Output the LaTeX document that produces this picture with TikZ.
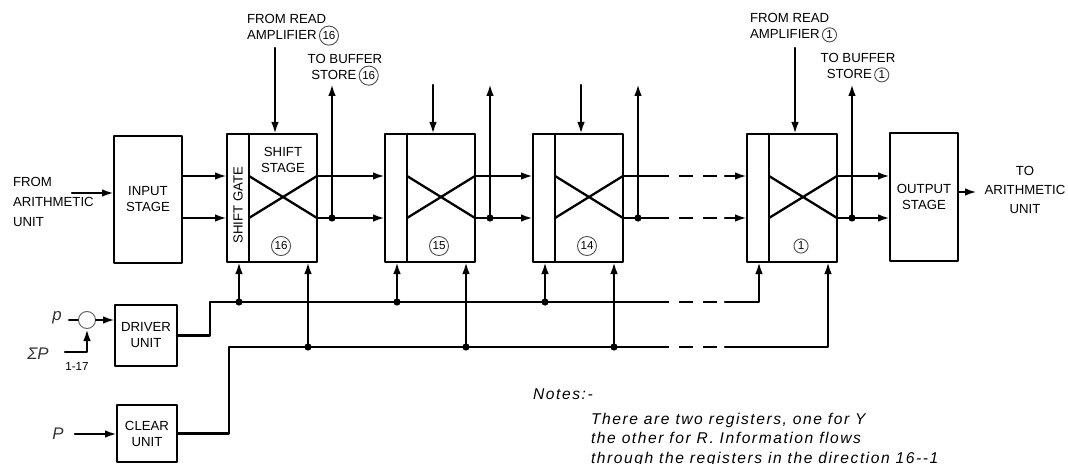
\documentclass[tikz,border=0pt]{standalone}
\usepackage{fontspec}
\setmainfont{Liberation Sans}
\newfontfamily\notefont[LetterSpace=10]{Liberation Sans}
\usetikzlibrary{arrows.meta, positioning, calc}
\tikzset{every node/.style={font=\fontsize{6.6}{8}\selectfont}, every path/.style={line cap=round, line join=round}, >={Latex[length=6pt, width=3.8pt]}}
\tikzset{
    wire/.style={line width=1.15pt},
    gap/.style={line width=1.15pt, line cap=butt, dash pattern=on 7pt off 5pt},
    gatebox/.style={draw, line width=1.1pt, inner sep=0pt, outer sep=0pt, anchor=north west, minimum width=11pt, minimum height=64pt},
    stagebox/.style={draw, line width=1.1pt, inner sep=0pt, outer sep=0pt, anchor=north west, minimum width=34pt, minimum height=64pt},
    unitbox/.style={draw, line width=1.1pt, inner sep=0pt, outer sep=0pt, anchor=north west, align=center},
    numc/.style={draw=black!70, circle, line width=0.45pt, inner sep=0.7pt, font=\fontsize{5.8}{6}\selectfont},
    dot/.style={circle, fill, inner sep=0pt, minimum size=3.6pt},
    sym/.style={font=\fontsize{8.4}{9}\selectfont\itshape, text=black!80}
}
\newcommand{\cnum}[1]{\tikz[baseline=(c.base)]\node[numc] (c) {#1};}

\begin{document}
\begin{tikzpicture}[x=0.5pt, y=-0.5pt]
    \useasboundingbox (0,0) rectangle (1068,464);

    % stages
    \node [unitbox, minimum width=34pt, minimum height=63.5pt] (inp) at (114,136) {INPUT\\STAGE};
    \node [unitbox, minimum width=34pt, minimum height=64pt] (out) at (890,133) {OUTPUT\\STAGE};
    \node [unitbox, minimum width=31pt, minimum height=30.5pt] (drv) at (115,305) {DRIVER\\UNIT};
    \node [unitbox, minimum width=30pt, minimum height=28.5pt] (clr) at (117,405) {CLEAR\\UNIT};

    % registers 16 .. 1
    \foreach \r/\x/\ry in {16/227/48, 15/385/85, 14/533/85, 1/747/48} {
        \node [gatebox] (g\r) at (\x,134) {};
        \node [stagebox] (s\r) at (g\r.north east) {};
        \coordinate (ia\r) at (\x,176);
        \coordinate (ib\r) at (\x,218);
        \coordinate (oa\r) at (\x+90,176);
        \coordinate (ob\r) at (\x+90,218);
        \coordinate (rd\r) at (\x+48,\ry);
        \coordinate (bf\r) at (\x+105,218);
        \coordinate (bt\r) at (\x+105,84);
        \coordinate (ba\r) at (\x+12,262);
        \coordinate (bb\r) at (\x+81,262);
        \draw [wire] (g\r.east |- ia\r) -- (ob\r) (g\r.east |- ib\r) -- (oa\r);
        \node [numc] (n\r) at (\x+54,246) {\r};
        \draw [wire, ->] (rd\r) -- (rd\r |- s\r.north);
        \draw [wire, ->] (bf\r) -- (bt\r);
        \node [dot] at (bf\r) {};
    }
    \node [below=3pt of s16.north, align=center] (shst) {SHIFT\\STAGE};
    \node [rotate=90] (shgt) at ($(g16.center)+(0,7)$) {SHIFT GATE};

    % labels
    \node [anchor=west, align=left, font=\fontsize{6.6}{10}\selectfont] (fromau) at (6,202) {FROM\\ARITHMETIC\\UNIT};
    \node [align=center, font=\fontsize{6.6}{9.5}\selectfont] (toau) at (1025,190) {TO\\ARITHMETIC\\UNIT};
    \node [anchor=west, align=left] (rdl16) at (240,30) {FROM READ\\AMPLIFIER\,\cnum{16}};
    \node [anchor=west, align=left] (rdl1) at (743,28) {FROM READ\\AMPLIFIER\,\cnum{1}};
    \node [align=center] (bsl16) at (345,70) {TO BUFFER\\STORE\,\cnum{16}};
    \node [align=center] (bsl1) at (858,68) {TO BUFFER\\STORE\,\cnum{1}};

    % data path
    \coordinate (ain) at (72,193);
    \coordinate (aout) at (977,192);
    \coordinate (da) at (655,0);
    \coordinate (db) at (725,0);
    \draw [wire, ->] (ain) -- (inp.west |- ain);
    \draw [wire, ->] (inp.east |- ia16) -- (ia16);
    \draw [wire, ->] (inp.east |- ib16) -- (ib16);
    \draw [wire, ->] (oa16) -- (ia15);
    \draw [wire, ->] (ob16) -- (ib15);
    \draw [wire, ->] (oa15) -- (ia14);
    \draw [wire, ->] (ob15) -- (ib14);
    \draw [wire] (oa14) -- (oa14 -| da);
    \draw [wire] (ob14) -- (ob14 -| da);
    \draw [gap] (oa14 -| da) -- (oa14 -| db);
    \draw [gap] (ob14 -| da) -- (ob14 -| db);
    \draw [wire, ->] (oa14 -| db) -- (ia1);
    \draw [wire, ->] (ob14 -| db) -- (ib1);
    \draw [wire, ->] (oa1) -- (out.west |- oa1);
    \draw [wire, ->] (ob1) -- (out.west |- ob1);
    \draw [wire, ->] (out.east |- aout) -- (aout);

    % driver and clear buses
    \coordinate (dbus) at (210,302);
    \coordinate (cbus) at (229,347);
    \draw [wire] (drv.east) -| (dbus) -- (dbus -| da);
    \draw [gap] (dbus -| da) -- (dbus -| db);
    \draw [wire, ->] (dbus -| db) -| (ba1);
    \draw [wire] (clr.east) -| (cbus) -- (cbus -| da);
    \draw [gap] (cbus -| da) -- (cbus -| db);
    \draw [wire, ->] (cbus -| db) -| (bb1);
    \foreach \r in {16, 15, 14} {
        \draw [wire, ->] (ba\r |- dbus) -- (ba\r);
        \node [dot] at (ba\r |- dbus) {};
        \draw [wire, ->] (bb\r |- cbus) -- (bb\r);
        \node [dot] at (bb\r |- cbus) {};
    }

    % pulse inputs
    \node [draw=black!60, circle, line width=0.5pt, minimum size=8.5pt, inner sep=0pt] (sum) at (87,320) {};
    \node [sym] (pin) at (57,318) {p};
    \node [sym] (spin) at (38,354) {ΣP};
    \node [font=\fontsize{5.8}{6}\selectfont] (rng) at (77,367) {1-17};
    \node [sym] (pcl) at (58,434) {P};
    \coordinate (sp) at (65,352);
    \coordinate (cl) at (75,434);
    \draw [line width=0.6pt] (pin.east |- sum.west) -- (sum.west);
    \draw [wire, ->] (sum.east) -- (drv.west |- sum.east);
    \draw [wire, ->] (sp) -| (sum.south);
    \draw [wire, ->] (cl) -- (clr.west |- cl);

    % notes
    \node [anchor=west, font=\fontsize{7.8}{9}\notefont\itshape] (notes) at (526,394) {Notes:-};
    \node [anchor=north west, align=left, font=\fontsize{7.8}{9.7}\notefont\itshape] (notetxt) at (584,406) {There are two registers, one for Y\\the other for R. Information flows\\through the registers in the direction 16-{}-1};
\end{tikzpicture}
\end{document}
